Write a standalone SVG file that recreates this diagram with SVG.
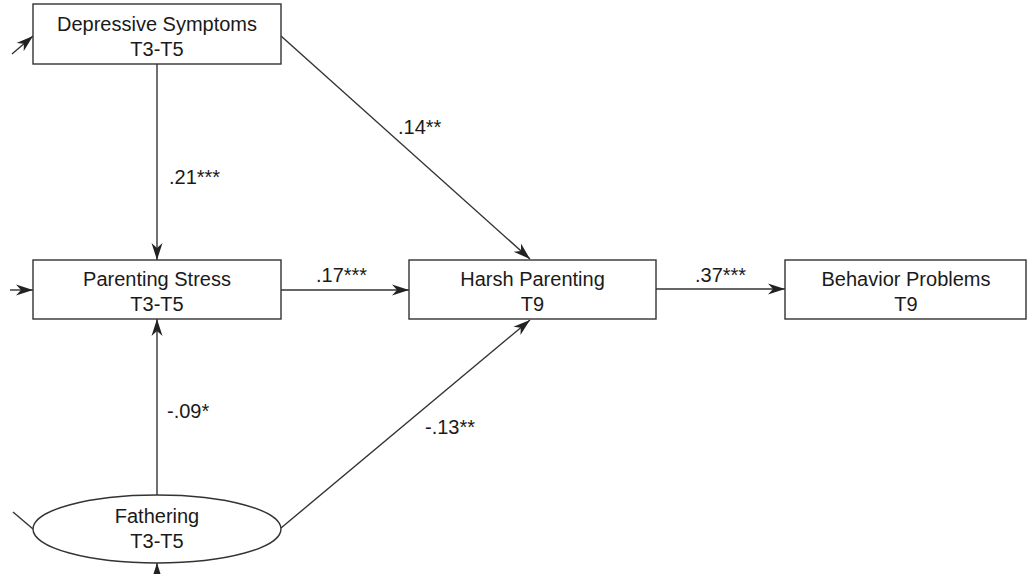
<svg xmlns="http://www.w3.org/2000/svg" width="1027" height="574" viewBox="0 0 1027 574">
<style>
.box{fill:#fff;stroke:#333;stroke-width:1.4}
.t{font-family:"Liberation Sans",Arial,sans-serif;font-size:20px;fill:#1a1a1a;text-anchor:middle}
.lbl{font-family:"Liberation Sans",Arial,sans-serif;font-size:20px;fill:#1a1a1a}
.e{fill:none;stroke:#333;stroke-width:1.4}
</style>
<defs>
<marker id="arr" markerUnits="userSpaceOnUse" markerWidth="20" markerHeight="14" refX="18" refY="6" orient="auto" viewBox="0 0 20 12">
<path d="M18,6 L1,0.5 L6,6 L1,11.5 Z" fill="#222"/>
</marker>
</defs>
<rect width="1027" height="574" fill="#fff"/>
<g id="connectors">
<line class="e" x1="157" y1="64" x2="157" y2="260" marker-end="url(#arr)"/>
<line class="e" x1="281" y1="36" x2="530" y2="259" marker-end="url(#arr)"/>
<line class="e" x1="281" y1="290" x2="409" y2="290" marker-end="url(#arr)"/>
<line class="e" x1="656" y1="289" x2="785" y2="289" marker-end="url(#arr)"/>
<line class="e" x1="157" y1="495" x2="157" y2="319" marker-end="url(#arr)"/>
<line class="e" x1="281" y1="528" x2="530" y2="320" marker-end="url(#arr)"/>
<line class="e" x1="12" y1="54" x2="33" y2="36" marker-end="url(#arr)"/>
<line class="e" x1="10" y1="290" x2="33" y2="290" marker-end="url(#arr)"/>
<line class="e" x1="13" y1="512" x2="33" y2="529"/>
<line class="e" x1="157" y1="590" x2="157" y2="563" marker-end="url(#arr)"/>
<text class="lbl" x="169" y="184">.21***</text>
<text class="lbl" x="398" y="134">.14**</text>
<text class="lbl" x="316" y="282">.17***</text>
<text class="lbl" x="695" y="282">.37***</text>
<text class="lbl" x="167" y="418">-.09*</text>
<text class="lbl" x="425" y="434">-.13**</text>
</g>
<g id="depressive">
<rect class="box" x="33" y="4" width="248" height="60"/>
<text class="t" x="157" y="31">Depressive Symptoms</text>
<text class="t" x="157" y="56">T3-T5</text>
</g>
<g id="parenting-stress">
<rect class="box" x="33" y="260" width="248" height="59"/>
<text class="t" x="157" y="286">Parenting Stress</text>
<text class="t" x="157" y="311">T3-T5</text>
</g>
<g id="harsh-parenting">
<rect class="box" x="409" y="260" width="247" height="59"/>
<text class="t" x="532.5" y="286">Harsh Parenting</text>
<text class="t" x="532.5" y="311">T9</text>
</g>
<g id="behavior-problems">
<rect class="box" x="785" y="260" width="241" height="59"/>
<text class="t" x="906" y="286">Behavior Problems</text>
<text class="t" x="906" y="311">T9</text>
</g>
<g id="fathering">
<ellipse class="box" cx="157" cy="529" rx="124" ry="34"/>
<text class="t" x="157" y="523">Fathering</text>
<text class="t" x="157" y="548">T3-T5</text>
</g>
</svg>
